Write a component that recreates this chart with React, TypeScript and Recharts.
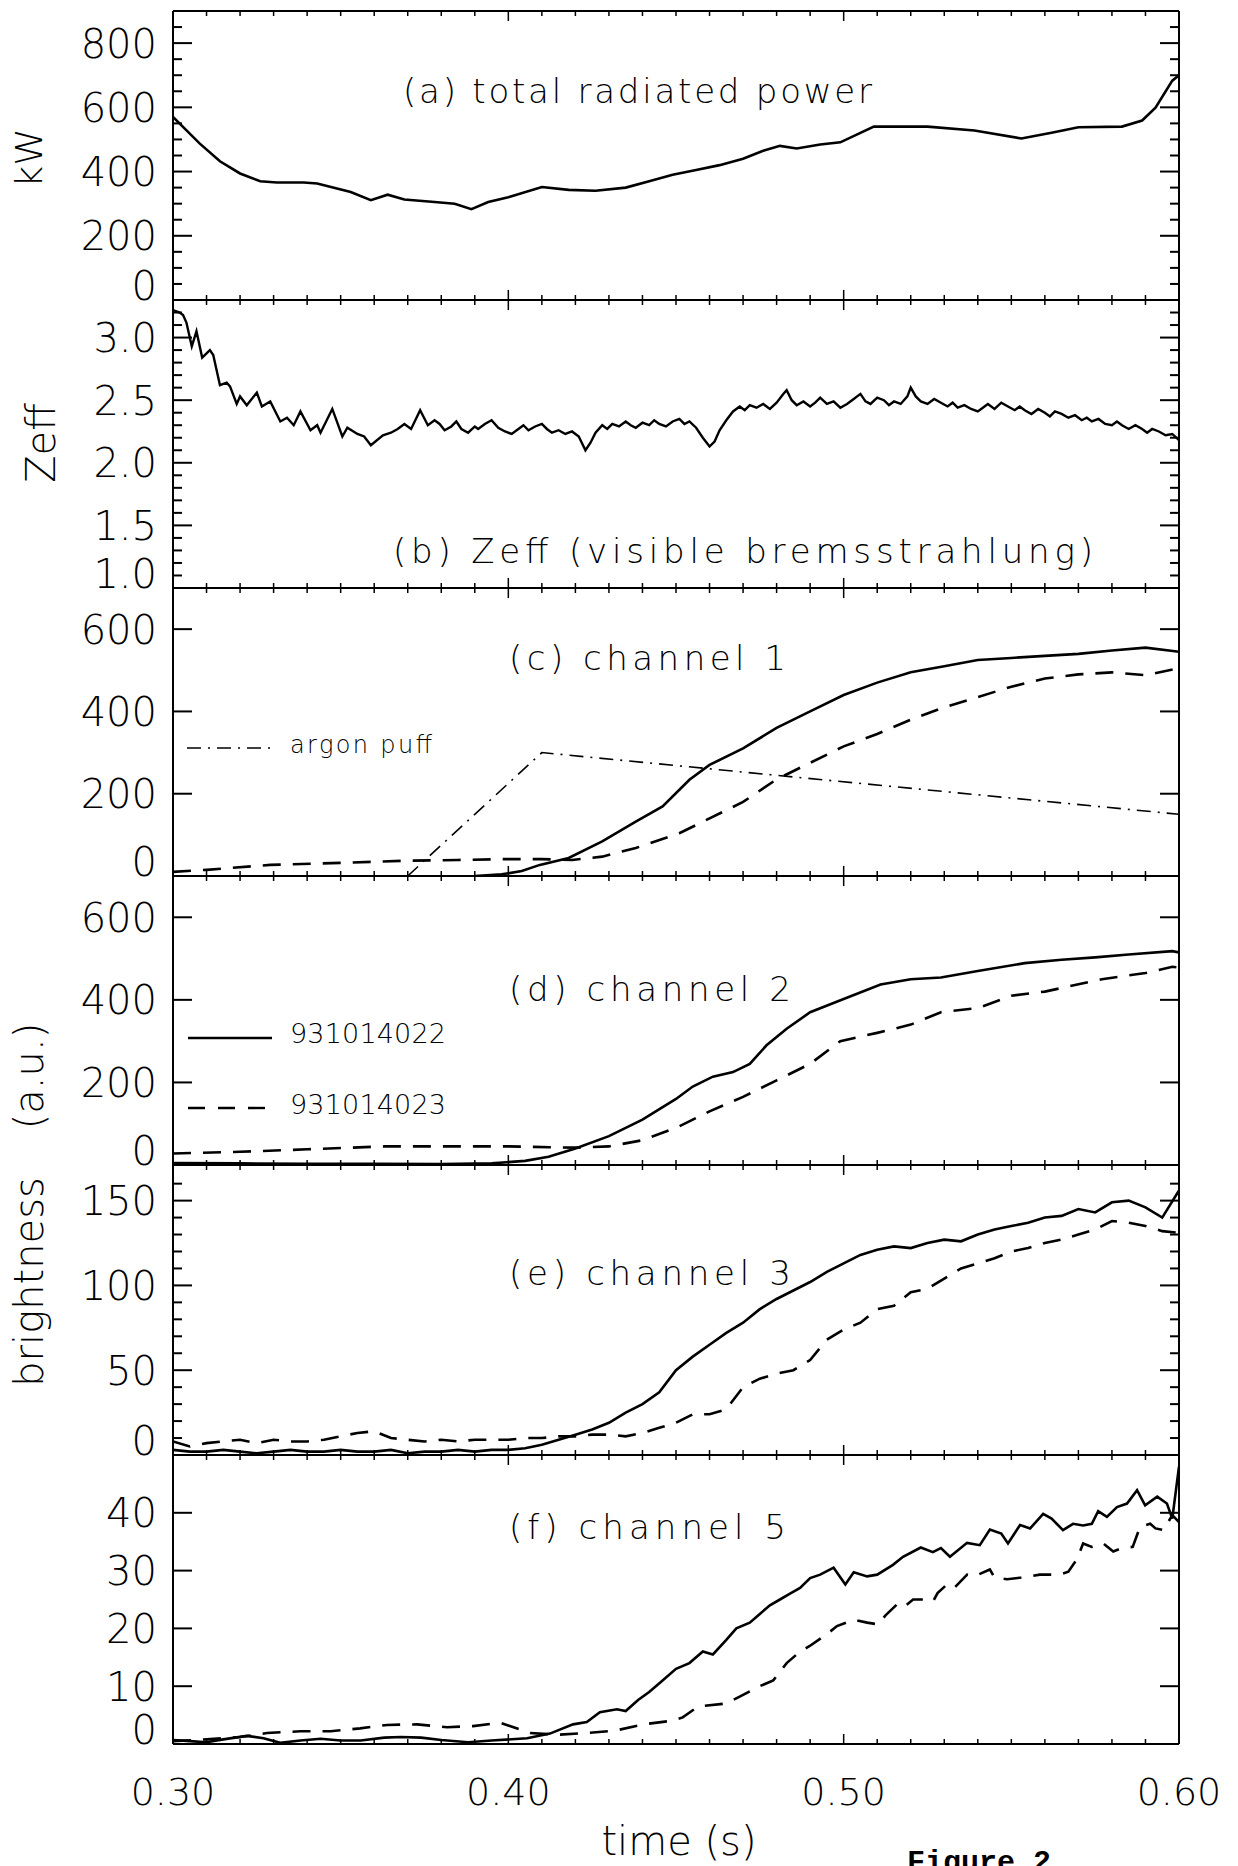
import { LineChart, Line, XAxis, YAxis } from 'recharts';

const FONT = '"DejaVu Sans", "Liberation Sans", sans-serif';
const LEFT = 173;
const RIGHT = 1179;
const W = 1238;
const PAD = 22;

type Pt = [number, number];

// shared time axis
const xTicks = [0.30, 0.31, 0.32, 0.33, 0.34, 0.35, 0.36, 0.37, 0.38, 0.39, 0.40, 0.41, 0.42, 0.43, 0.44, 0.45,
  0.46, 0.47, 0.48, 0.49, 0.50, 0.51, 0.52, 0.53, 0.54, 0.55, 0.56, 0.57, 0.58, 0.59, 0.60];
const xMajor = [0.30, 0.40, 0.50, 0.60];
const xLabels = ['0.30', '0.40', '0.50', '0.60'];

// (a) total radiated power, kW
const power: Pt[] = [[0.300, 570], [0.308, 487], [0.314, 432], [0.320, 394], [0.326, 370], [0.331, 366], [0.339, 366],
  [0.343, 363], [0.353, 336], [0.359, 311], [0.364, 328], [0.369, 313], [0.378, 305], [0.384, 300], [0.389, 283],
  [0.394, 305], [0.400, 320], [0.410, 352], [0.418, 343], [0.426, 340], [0.435, 350], [0.442, 370], [0.449, 390],
  [0.456, 405], [0.463, 420], [0.470, 440], [0.476, 465], [0.481, 480], [0.486, 472], [0.493, 484], [0.499, 491],
  [0.509, 540], [0.525, 540], [0.539, 528], [0.553, 503], [0.562, 521], [0.570, 538], [0.583, 540], [0.589, 559],
  [0.593, 599], [0.598, 683], [0.600, 700]];

// (b) Zeff
const zeff: Pt[] = [[0.300, 3.22], [0.302, 3.20], [0.303, 3.18], [0.304, 3.12], [0.3056, 2.93], [0.307, 3.05],
  [0.3087, 2.84], [0.311, 2.90], [0.312, 2.86], [0.314, 2.62], [0.316, 2.64], [0.317, 2.61], [0.319, 2.47],
  [0.320, 2.53], [0.322, 2.46], [0.325, 2.56], [0.3265, 2.45], [0.329, 2.49], [0.332, 2.33], [0.334, 2.36],
  [0.336, 2.30], [0.338, 2.41], [0.341, 2.26], [0.343, 2.30], [0.344, 2.24], [0.3475, 2.43], [0.3505, 2.21],
  [0.352, 2.28], [0.355, 2.23], [0.357, 2.21], [0.359, 2.14], [0.3626, 2.22], [0.365, 2.24], [0.367, 2.27],
  [0.369, 2.31], [0.371, 2.27], [0.3737, 2.42], [0.376, 2.30], [0.378, 2.34], [0.3795, 2.31], [0.381, 2.26],
  [0.383, 2.29], [0.3845, 2.33], [0.386, 2.27], [0.388, 2.24], [0.390, 2.29], [0.391, 2.27], [0.393, 2.31],
  [0.395, 2.34], [0.397, 2.28], [0.399, 2.25], [0.401, 2.23], [0.403, 2.27], [0.4045, 2.30], [0.406, 2.26],
  [0.408, 2.29], [0.410, 2.31], [0.4115, 2.27], [0.413, 2.24], [0.415, 2.26], [0.417, 2.23], [0.419, 2.25],
  [0.421, 2.21], [0.423, 2.10], [0.4245, 2.16], [0.426, 2.24], [0.428, 2.30], [0.4295, 2.27], [0.431, 2.31],
  [0.433, 2.29], [0.435, 2.33], [0.4365, 2.30], [0.438, 2.28], [0.440, 2.32], [0.442, 2.30], [0.4435, 2.34],
  [0.445, 2.31], [0.447, 2.29], [0.449, 2.33], [0.451, 2.35], [0.4525, 2.31], [0.454, 2.33], [0.456, 2.28],
  [0.458, 2.20], [0.460, 2.13], [0.4615, 2.17], [0.463, 2.26], [0.465, 2.34], [0.467, 2.41], [0.469, 2.45],
  [0.4705, 2.42], [0.472, 2.46], [0.474, 2.44], [0.476, 2.47], [0.478, 2.43], [0.480, 2.48], [0.482, 2.55],
  [0.483, 2.58], [0.4845, 2.50], [0.486, 2.46], [0.488, 2.49], [0.490, 2.45], [0.4915, 2.48], [0.493, 2.52],
  [0.495, 2.47], [0.497, 2.49], [0.499, 2.44], [0.501, 2.47], [0.503, 2.51], [0.505, 2.55], [0.5065, 2.49],
  [0.508, 2.47], [0.510, 2.52], [0.512, 2.50], [0.5135, 2.46], [0.515, 2.49], [0.517, 2.47], [0.519, 2.53],
  [0.520, 2.60], [0.5215, 2.53], [0.523, 2.49], [0.525, 2.47], [0.527, 2.51], [0.529, 2.48], [0.531, 2.45],
  [0.5325, 2.48], [0.534, 2.44], [0.536, 2.46], [0.538, 2.43], [0.540, 2.41], [0.5415, 2.44], [0.543, 2.47],
  [0.545, 2.43], [0.547, 2.48], [0.549, 2.45], [0.551, 2.42], [0.5525, 2.45], [0.554, 2.42], [0.556, 2.39],
  [0.558, 2.43], [0.560, 2.40], [0.5615, 2.37], [0.563, 2.41], [0.565, 2.39], [0.567, 2.36], [0.569, 2.38],
  [0.571, 2.34], [0.5725, 2.36], [0.574, 2.33], [0.576, 2.35], [0.578, 2.31], [0.580, 2.30], [0.5815, 2.33],
  [0.583, 2.30], [0.585, 2.27], [0.587, 2.30], [0.589, 2.27], [0.5905, 2.24], [0.592, 2.27], [0.594, 2.25],
  [0.596, 2.22], [0.598, 2.23], [0.600, 2.18]];

// (c) channel 1
const argonPuff: Pt[] = [[0.370, 0], [0.410, 300], [0.600, 150]];
const ch1Shot22: Pt[] = [[0.300, -3], [0.320, -3], [0.340, -2], [0.360, -2], [0.380, -1], [0.390, 0], [0.398, 4],
  [0.404, 12], [0.4094, 27], [0.418, 44], [0.428, 84], [0.438, 132], [0.446, 169], [0.454, 234], [0.460, 270],
  [0.470, 310], [0.480, 360], [0.490, 400], [0.500, 440], [0.510, 470], [0.520, 495], [0.530, 510], [0.540, 525],
  [0.550, 530], [0.560, 535], [0.570, 540], [0.580, 548], [0.590, 555], [0.600, 545]];
const ch1Shot23: Pt[] = [[0.300, 10], [0.310, 15], [0.329, 27], [0.350, 32], [0.369, 37], [0.385, 39], [0.398, 41],
  [0.410, 41], [0.419, 39], [0.428, 47], [0.438, 68], [0.451, 104], [0.460, 140], [0.470, 180], [0.480, 235],
  [0.490, 275], [0.500, 315], [0.510, 345], [0.520, 380], [0.530, 410], [0.540, 435], [0.550, 460], [0.560, 480],
  [0.570, 490], [0.580, 495], [0.590, 488], [0.600, 505]];

// (d) channel 2
const ch2Shot22: Pt[] = [[0.300, 5], [0.320, 4], [0.340, 3], [0.360, 3], [0.380, 2], [0.395, 4], [0.405, 10],
  [0.412, 20], [0.420, 40], [0.430, 70], [0.440, 110], [0.450, 160], [0.455, 190], [0.461, 214], [0.467, 225],
  [0.472, 245], [0.477, 290], [0.483, 330], [0.490, 370], [0.500, 402], [0.511, 437], [0.520, 450], [0.529, 454],
  [0.540, 470], [0.554, 489], [0.565, 497], [0.575, 503], [0.585, 510], [0.598, 518], [0.600, 515]];
const ch2Shot23: Pt[] = [[0.300, 28], [0.320, 32], [0.340, 38], [0.363, 45], [0.380, 45], [0.400, 45], [0.420, 42],
  [0.430, 45], [0.440, 60], [0.450, 90], [0.460, 130], [0.470, 165], [0.480, 205], [0.490, 245], [0.499, 300],
  [0.510, 320], [0.520, 340], [0.529, 370], [0.540, 380], [0.550, 410], [0.560, 420], [0.577, 450], [0.590, 465],
  [0.598, 480], [0.600, 478]];

// (e) channel 3
const tGrid5 = [0.300, 0.305, 0.310, 0.315, 0.320, 0.325, 0.330, 0.335, 0.340, 0.345, 0.350, 0.355, 0.360, 0.365,
  0.370, 0.375, 0.380, 0.385, 0.390, 0.395, 0.400, 0.405, 0.410, 0.415, 0.420, 0.425, 0.430, 0.435, 0.440, 0.445,
  0.450, 0.455, 0.460, 0.465, 0.470, 0.475, 0.480, 0.485, 0.490, 0.495, 0.500, 0.505, 0.510, 0.515, 0.520, 0.525,
  0.530, 0.535, 0.540, 0.545, 0.550, 0.555, 0.560, 0.565, 0.570, 0.575, 0.580, 0.585, 0.590, 0.595, 0.600];
const ch3Shot22 = [3, 2, 2, 3, 2, 1, 2, 3, 2, 2, 3, 2, 2, 3, 1, 2, 2, 3, 2, 3, 3, 4, 6, 9, 12, 15, 19, 25, 30, 37,
  50, 58, 65, 72, 78, 86, 92, 97, 102, 108, 113, 118, 121, 123, 122, 125, 127, 126, 130, 133, 135, 137, 140, 141,
  145, 143, 149, 150, 146, 140, 156];
const ch3Shot23 = [8, 5, 7, 8, 9, 7, 9, 8, 8, 9, 11, 13, 14, 10, 9, 8, 9, 8, 9, 9, 9, 10, 10, 11, 11, 12, 12, 11, 13,
  16, 19, 24, 24, 27, 40, 45, 48, 50, 56, 68, 74, 78, 86, 88, 96, 98, 104, 110, 113, 116, 120, 122, 125, 127, 130,
  133, 138, 137, 135, 132, 131];

// (f) channel 5
const ch5Shot22: Pt[] = [[0.300, 0.7], [0.305, 0.5], [0.310, 0.3], [0.315, 0.8], [0.322, 1.4], [0.327, 1.0],
  [0.332, 0.2], [0.338, 0.6], [0.344, 0.9], [0.350, 0.6], [0.356, 0.6], [0.363, 1.1], [0.368, 1.2], [0.374, 1.1],
  [0.380, 0.7], [0.388, 0.3], [0.395, 0.6], [0.4056, 1.0], [0.4124, 1.8], [0.4193, 3.4], [0.4234, 3.8],
  [0.4273, 5.5], [0.4324, 6.0], [0.435, 5.7], [0.4387, 7.6], [0.442, 9], [0.446, 11], [0.450, 13], [0.454, 14],
  [0.458, 16], [0.461, 15.5], [0.465, 18], [0.468, 20], [0.472, 21], [0.475, 22.5], [0.478, 24], [0.481, 25],
  [0.484, 26], [0.487, 27], [0.490, 28.7], [0.493, 29.3], [0.497, 30.5], [0.5005, 27.6], [0.503, 29.7],
  [0.507, 29], [0.510, 29.3], [0.5147, 31], [0.5177, 32.4], [0.523, 34], [0.5266, 33.2], [0.529, 33.9],
  [0.5317, 32.4], [0.5368, 34.8], [0.5406, 34.4], [0.5436, 37.1], [0.547, 36.4], [0.549, 34.7], [0.5526, 37.9],
  [0.5556, 37.3], [0.5595, 39.8], [0.562, 39], [0.5654, 37], [0.5684, 38.1], [0.5714, 37.8], [0.574, 38.1],
  [0.5759, 40.3], [0.5785, 39.3], [0.5815, 41], [0.5845, 41.6], [0.5875, 43.9], [0.5899, 41.3], [0.5935, 42.8],
  [0.5964, 41.6], [0.598, 39], [0.600, 48]];
const ch5Shot23: Pt[] = [[0.300, 0.5], [0.310, 0.8], [0.320, 1.2], [0.328, 1.9], [0.338, 2.2], [0.347, 2.2],
  [0.3558, 2.7], [0.3638, 3.3], [0.3728, 3.4], [0.3817, 2.9], [0.3895, 3.1], [0.3975, 3.7], [0.4065, 1.9],
  [0.415, 1.6], [0.4234, 1.9], [0.4318, 2.3], [0.4402, 3.4], [0.4485, 4.0], [0.452, 4.6], [0.4566, 6.5],
  [0.465, 7.0], [0.470, 8.5], [0.475, 10], [0.479, 11], [0.483, 14], [0.487, 16], [0.490, 17], [0.495, 19],
  [0.498, 20.4], [0.503, 21.5], [0.507, 21], [0.5103, 20.7], [0.5124, 22.2], [0.516, 24.2], [0.518, 23.7],
  [0.5207, 25], [0.524, 25], [0.5267, 24.7], [0.528, 26.1], [0.5308, 27.6], [0.533, 27], [0.5368, 29.3],
  [0.539, 29], [0.5436, 30.2], [0.545, 28.8], [0.5487, 28.5], [0.553, 28.8], [0.5585, 29.3], [0.5645, 29.3],
  [0.567, 29.8], [0.5696, 32], [0.5714, 34.7], [0.574, 34.1], [0.5774, 34.7], [0.5804, 33.3], [0.583, 33.9],
  [0.5862, 34.1], [0.5884, 37.6], [0.5914, 38.1], [0.593, 37.3], [0.5954, 37], [0.598, 39.6], [0.600, 38.4]];

// y ticks per panel
const yTicksA = [0, 50, 100, 150, 200, 250, 300, 350, 400, 450, 500, 550, 600, 650, 700, 750, 800, 850];
const yMajorA = [0, 200, 400, 600, 800];
const yLabelsA = ['0', '200', '400', '600', '800'];
const yTicksB = [1.0, 1.1, 1.2, 1.3, 1.4, 1.5, 1.6, 1.7, 1.8, 1.9, 2.0, 2.1, 2.2, 2.3, 2.4, 2.5, 2.6, 2.7, 2.8, 2.9,
  3.0, 3.1, 3.2];
const yMajorB = [1.0, 1.5, 2.0, 2.5, 3.0];
const yLabelsB = ['1.0', '1.5', '2.0', '2.5', '3.0'];
const yTicksCD = [0, 200, 400, 600];
const yLabelsCD = ['0', '200', '400', '600'];
const yTicksE = [0, 10, 20, 30, 40, 50, 60, 70, 80, 90, 100, 110, 120, 130, 140, 150, 160];
const yMajorE = [0, 50, 100, 150];
const yLabelsE = ['0', '50', '100', '150'];
const yTicksF = [0, 10, 20, 30, 40];
const yLabelsF = ['0', '10', '20', '30', '40'];

const pts = (d: Pt[]) => d.map(([t, v]) => ({ t, v }));
const grid = (ts: number[], vs: number[]) => ts.map((t, i) => ({ t, v: vs[i] }));
const same = (a: number, b: number) => Math.abs(a - b) < 1e-6;

type Series = { data: { t: number; v: number }[]; dash?: string; width?: number };

type PanelProps = {
  top: number;
  h: number;
  domain: [number, number];
  ticks: number[];
  majors: number[];
  labels: string[];
  series: Series[];
  bottomLabels?: boolean;
};

function Panel({ top, h, domain, ticks, majors, labels, series, bottomLabels }: PanelProps) {
  const extra = bottomLabels ? 70 : 0;
  const yTop = PAD;
  const yBot = PAD + h;

  const xTick = (side: 'top' | 'bottom') => (p: any) => {
    const x = p.x;
    const mi = xMajor.findIndex((m) => same(m, p.payload.value));
    const len = mi >= 0 ? 10 : 5;
    const y0 = side === 'bottom' ? yBot : yTop;
    const y1 = side === 'bottom' ? yBot - len : yTop + len;
    return (
      <g>
        <line x1={x} x2={x} y1={y0} y2={y1} stroke="#000" strokeWidth={1.5} />
        {bottomLabels && side === 'bottom' && mi >= 0 && (
          <text x={x} y={yBot + 61} textAnchor="middle" fontFamily={FONT} fontWeight={200} fontSize={38} fill="#000">
            {xLabels[mi]}
          </text>
        )}
      </g>
    );
  };

  const yTick = (side: 'left' | 'right') => (p: any) => {
    const y = p.y;
    const v = p.payload.value;
    const mi = majors.findIndex((m) => same(m, v));
    const len = mi >= 0 ? 19 : 9;
    const x0 = side === 'left' ? LEFT : RIGHT;
    const x1 = side === 'left' ? LEFT + len : RIGHT - len;
    const isMin = same(v, domain[0]);
    return (
      <g>
        <line x1={x0} x2={x1} y1={y} y2={y} stroke="#000" strokeWidth={2} />
        {side === 'left' && mi >= 0 && (
          <text x={157} y={isMin ? y : y + 14.5} textAnchor="end" fontFamily={FONT} fontWeight={200} fontSize={40}
            fill="#000">
            {labels[mi]}
          </text>
        )}
      </g>
    );
  };

  const axisLine = { stroke: '#000', strokeWidth: 2 };

  return (
    <div style={{ position: 'absolute', left: 0, top: top - PAD }}>
      <LineChart width={W} height={h + 2 * PAD + extra}
        margin={{ top: PAD - 1, right: W - RIGHT - 1, bottom: PAD - 1 + extra, left: LEFT - 60 }}>
        <XAxis xAxisId="b" type="number" dataKey="t" domain={[0.3, 0.6]} ticks={xTicks} interval={0}
          allowDataOverflow height={1} tickLine={false} axisLine={axisLine} tick={xTick('bottom')} />
        <XAxis xAxisId="t" orientation="top" type="number" dataKey="t" domain={[0.3, 0.6]} ticks={xTicks}
          interval={0} allowDataOverflow height={1} tickLine={false} axisLine={axisLine} tick={xTick('top')} />
        <YAxis yAxisId="l" type="number" domain={domain} ticks={ticks} interval={0} allowDataOverflow width={60}
          tickLine={false} axisLine={axisLine} tick={yTick('left')} />
        <YAxis yAxisId="r" orientation="right" type="number" domain={domain} ticks={ticks} interval={0}
          allowDataOverflow width={1} tickLine={false} axisLine={axisLine} tick={yTick('right')} />
        {series.map((s, i) => (
          <Line key={i} xAxisId="b" yAxisId="l" data={s.data} dataKey="v" type="linear" dot={false}
            activeDot={false} stroke="#000" strokeWidth={s.width ?? 2.6} strokeDasharray={s.dash}
            isAnimationActive={false} />
        ))}
      </LineChart>
    </div>
  );
}

const DASH = '18 12';
const DASHDOT = '14 7 2 7';

export default function App() {
  const txt = { fontFamily: FONT, fontWeight: 200, fill: '#000' } as const;
  return (
    <div style={{ position: 'absolute', left: 0, top: 0, width: W, height: 1866, overflow: 'hidden', background: '#fff' }}>
      <Panel top={11} h={289} domain={[0, 900]} ticks={yTicksA} majors={yMajorA} labels={yLabelsA}
        series={[{ data: pts(power) }]} />
      <Panel top={300} h={288} domain={[1.0, 3.3]} ticks={yTicksB} majors={yMajorB} labels={yLabelsB}
        series={[{ data: pts(zeff), width: 2.4 }]} />
      <Panel top={588} h={288} domain={[0, 700]} ticks={yTicksCD} majors={yTicksCD} labels={yLabelsCD}
        series={[{ data: pts(argonPuff), dash: DASHDOT, width: 1.6 }, { data: pts(ch1Shot22) },
          { data: pts(ch1Shot23), dash: DASH }]} />
      <Panel top={876} h={289} domain={[0, 700]} ticks={yTicksCD} majors={yTicksCD} labels={yLabelsCD}
        series={[{ data: pts(ch2Shot22) }, { data: pts(ch2Shot23), dash: DASH }]} />
      <Panel top={1165} h={290} domain={[0, 171]} ticks={yTicksE} majors={yMajorE} labels={yLabelsE}
        series={[{ data: grid(tGrid5, ch3Shot22) }, { data: grid(tGrid5, ch3Shot23), dash: DASH }]} />
      <Panel top={1455} h={289} domain={[0, 50]} ticks={yTicksF} majors={yTicksF} labels={yLabelsF}
        series={[{ data: pts(ch5Shot22) }, { data: pts(ch5Shot23), dash: DASH }]} bottomLabels />

      <svg width={W} height={1866} style={{ position: 'absolute', left: 0, top: 0, pointerEvents: 'none' }}>
        {/* axis titles */}
        <text {...txt} fontSize={38} transform="translate(42,158) rotate(-90)" textAnchor="middle">kW</text>
        <text {...txt} fontSize={40} transform="translate(55,443) rotate(-90)" textAnchor="middle">Zeff</text>
        <text {...txt} fontSize={40} transform="translate(43,1076) rotate(-90)" textAnchor="middle">(a.u.)</text>
        <text {...txt} fontSize={40} transform="translate(43,1282) rotate(-90)" textAnchor="middle">brightness</text>
        <text {...txt} fontSize={40} x={679} y={1855} textAnchor="middle">time (s)</text>

        {/* panel captions */}
        <text {...txt} fontSize={34} x={403} y={103} textLength={469} lengthAdjust="spacing">(a) total radiated power</text>
        <text {...txt} fontSize={34} x={393} y={563} textLength={700} lengthAdjust="spacing">(b) Zeff (visible bremsstrahlung)</text>
        <text {...txt} fontSize={34} x={509} y={670} textLength={277} lengthAdjust="spacing">(c) channel 1</text>
        <text {...txt} fontSize={34} x={509} y={1001} textLength={282} lengthAdjust="spacing">(d) channel 2</text>
        <text {...txt} fontSize={34} x={509} y={1285} textLength={282} lengthAdjust="spacing">(e) channel 3</text>
        <text {...txt} fontSize={34} x={509} y={1539} textLength={277} lengthAdjust="spacing">(f) channel 5</text>

        {/* legends */}
        <line x1={187} x2={270} y1={748} y2={748} stroke="#000" strokeWidth={1.6} strokeDasharray={DASHDOT} />
        <text {...txt} fontSize={24} x={290} y={753} textLength={142} lengthAdjust="spacing">argon puff</text>
        <line x1={188} x2={272} y1={1038} y2={1038} stroke="#000" strokeWidth={2.4} />
        <text {...txt} fontSize={27} x={290} y={1043} textLength={156} lengthAdjust="spacing">931014022</text>
        <line x1={188} x2={266} y1={1108} y2={1108} stroke="#000" strokeWidth={2.4} strokeDasharray="17 13" />
        <text {...txt} fontSize={27} x={290} y={1114} textLength={156} lengthAdjust="spacing">931014023</text>

        <text x={907} y={1871} fontFamily='"Liberation Mono", monospace' fontWeight={700} fontSize={30} fill="#000">Figure 2</text>
      </svg>
    </div>
  );
}
